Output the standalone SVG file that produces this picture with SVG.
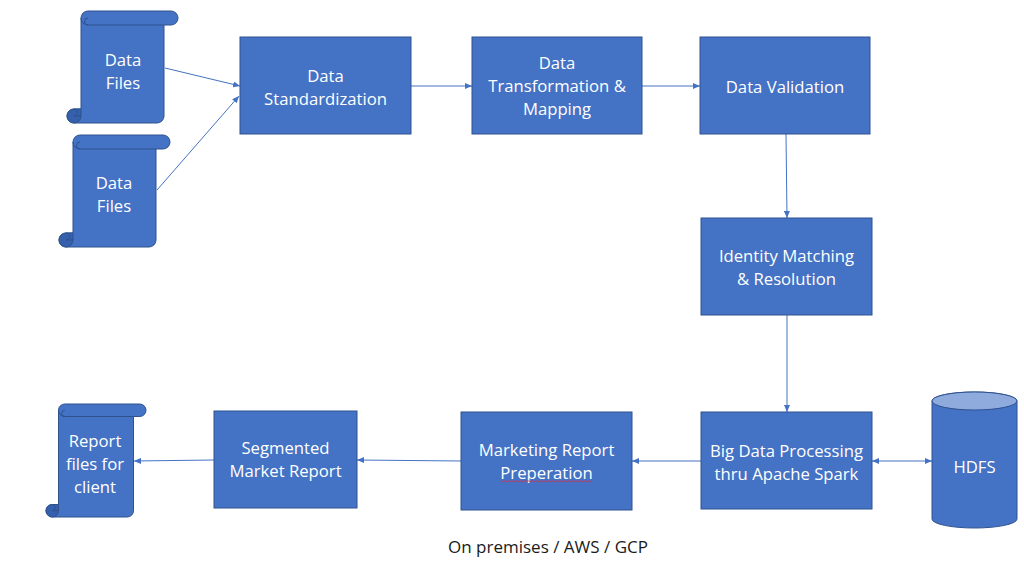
<svg xmlns="http://www.w3.org/2000/svg" width="1024" height="563" viewBox="0 0 1024 563">
<style>
.box{fill:#4472C4;stroke:#2F528F;stroke-width:1}
.scroll{fill:#4472C4;stroke:#2F528F;stroke-width:1;stroke-linejoin:round}
.det{fill:none;stroke:#2F528F;stroke-width:1}
.dark{fill:#3560AD;stroke:#2F528F;stroke-width:1}
.t{font-family:"Open Sans","Liberation Sans",sans-serif;font-size:16.7px;fill:#FFFFFF;text-anchor:middle}
.lbl{font-family:"Open Sans","Liberation Sans",sans-serif;font-size:17px;fill:#1A1A1A;text-anchor:middle}
.c{fill:none;stroke:#4472C4;stroke-width:1;marker-end:url(#ah)}
</style>
<defs>
<marker id="ah" viewBox="0 0 7 6" refX="7" refY="3" markerWidth="7" markerHeight="6" markerUnits="userSpaceOnUse" orient="auto-start-reverse">
<path d="M0,0 L7,3 L0,6 Z" fill="#4472C4"/>
</marker>
<g id="scrollA">
<path class="scroll" d="M7,112 A7,7 0 0 1 7,98 L14,98 L14,7 A7,7 0 0 1 21,0 L104,0 A7,7 0 0 1 104,14 L97,14 L97,105 A7,7 0 0 1 90,112 Z"/>
<path class="det" d="M21,14 L97,14 M21,14 A7,7 0 0 1 14,7 M21,14 A3.5,3.5 0 0 1 21,7"/>
<path class="dark" d="M14,105 A7,7 0 0 1 7,112 A7,7 0 0 1 7,98 L14,98 Z"/>
<path class="det" d="M7,98 A3.5,3.5 0 0 1 7,105 L14,105"/>
</g>
</defs>
<rect width="1024" height="563" fill="#FFFFFF"/>

<g id="connectors">
<line class="c" x1="165" y1="68" x2="240" y2="86"/>
<line class="c" x1="157" y1="190" x2="239" y2="96"/>
<line class="c" x1="411" y1="86" x2="472" y2="86"/>
<line class="c" x1="642" y1="86" x2="700" y2="86"/>
<line class="c" x1="786" y1="134" x2="787" y2="218"/>
<line class="c" x1="787" y1="315" x2="787" y2="412"/>
<line class="c" x1="872" y1="461" x2="932" y2="461" marker-start="url(#ah)"/>
<line class="c" x1="701" y1="461" x2="632" y2="461"/>
<line class="c" x1="461" y1="461" x2="357" y2="460"/>
<line class="c" x1="214" y1="460" x2="134" y2="461"/>
</g>

<g id="files1">
<use href="#scrollA" transform="translate(67,11)"/>
<text class="t" x="123" y="66">Data</text>
<text class="t" x="123" y="89">Files</text>
</g>

<g id="files2">
<use href="#scrollA" transform="translate(59,135)"/>
<text class="t" x="114" y="189">Data</text>
<text class="t" x="114" y="212">Files</text>
</g>

<g id="standardization">
<rect class="box" x="240" y="37" width="171" height="97"/>
<text class="t" x="325.5" y="82">Data</text>
<text class="t" x="325.5" y="105">Standardization</text>
</g>

<g id="transformation">
<rect class="box" x="472" y="37" width="170" height="97"/>
<text class="t" x="557" y="69">Data</text>
<text class="t" x="557" y="92">Transformation &amp;</text>
<text class="t" x="557" y="115">Mapping</text>
</g>

<g id="validation">
<rect class="box" x="700" y="37" width="170" height="97"/>
<text class="t" x="785" y="93">Data Validation</text>
</g>

<g id="identity">
<rect class="box" x="701" y="218" width="171" height="97"/>
<text class="t" x="786.5" y="262">Identity Matching</text>
<text class="t" x="786.5" y="285">&amp; Resolution</text>
</g>

<g id="bigdata">
<rect class="box" x="701" y="412" width="171" height="97"/>
<text class="t" x="786.5" y="457">Big Data Processing</text>
<text class="t" x="786.5" y="480">thru Apache Spark</text>
</g>

<g id="hdfs">
<path class="box" d="M932,401 L932,519 A42.5,9 0 0 0 1017,519 L1017,401 A42.5,9 0 0 0 932,401 Z"/>
<ellipse cx="974.5" cy="401" rx="42.5" ry="9" fill="#8FAADC" stroke="#2F528F" stroke-width="1"/>
<text class="t" x="974.5" y="473">HDFS</text>
</g>

<g id="marketing">
<rect class="box" x="461" y="412" width="171" height="98"/>
<text class="t" x="546.5" y="456">Marketing Report</text>
<text class="t" x="546.5" y="479">Preperation</text>
<path d="M502,482 l2,-1.5 l2,1.5 l2,-1.5 l2,1.5 l2,-1.5 l2,1.5 l2,-1.5 l2,1.5 l2,-1.5 l2,1.5 l2,-1.5 l2,1.5 l2,-1.5 l2,1.5 l2,-1.5 l2,1.5 l2,-1.5 l2,1.5 l2,-1.5 l2,1.5 l2,-1.5 l2,1.5 l2,-1.5 l2,1.5 l2,-1.5 l2,1.5 l2,-1.5 l2,1.5 l2,-1.5 l2,1.5 l2,-1.5 l2,1.5 l2,-1.5 l2,1.5 l2,-1.5 l2,1.5 l2,-1.5 l2,1.5 l2,-1.5 l2,1.5 l2,-1.5 l2,1.5 l2,-1.5 l2,1.5 l2,-1.5" fill="none" stroke="#D9304A" stroke-width="0.8"/>
</g>

<g id="segmented">
<rect class="box" x="214" y="411" width="143" height="97"/>
<text class="t" x="285.5" y="454">Segmented</text>
<text class="t" x="285.5" y="477">Market Report</text>
</g>

<g id="report">
<g transform="translate(46,404)">
<path class="scroll" d="M6.25,113 A6.25,6.25 0 0 1 6.25,100.5 L12.5,100.5 L12.5,6.25 A6.25,6.25 0 0 1 18.75,0 L93.75,0 A6.25,6.25 0 0 1 93.75,12.5 L87.5,12.5 L87.5,106.75 A6.25,6.25 0 0 1 81.25,113 Z"/>
<path class="det" d="M18.75,12.5 L87.5,12.5 M18.75,12.5 A6.25,6.25 0 0 1 12.5,6.25 M18.75,12.5 A3.125,3.125 0 0 1 18.75,6.25"/>
<path class="dark" d="M12.5,106.75 A6.25,6.25 0 0 1 6.25,113 A6.25,6.25 0 0 1 6.25,100.5 L12.5,100.5 Z"/>
<path class="det" d="M6.25,100.5 A3.125,3.125 0 0 1 6.25,106.75 L12.5,106.75"/>
</g>
<text class="t" x="95" y="447">Report</text>
<text class="t" x="95" y="470">files for</text>
<text class="t" x="95" y="493">client</text>
</g>

<text class="lbl" x="548" y="553">On premises / AWS / GCP</text>
</svg>
